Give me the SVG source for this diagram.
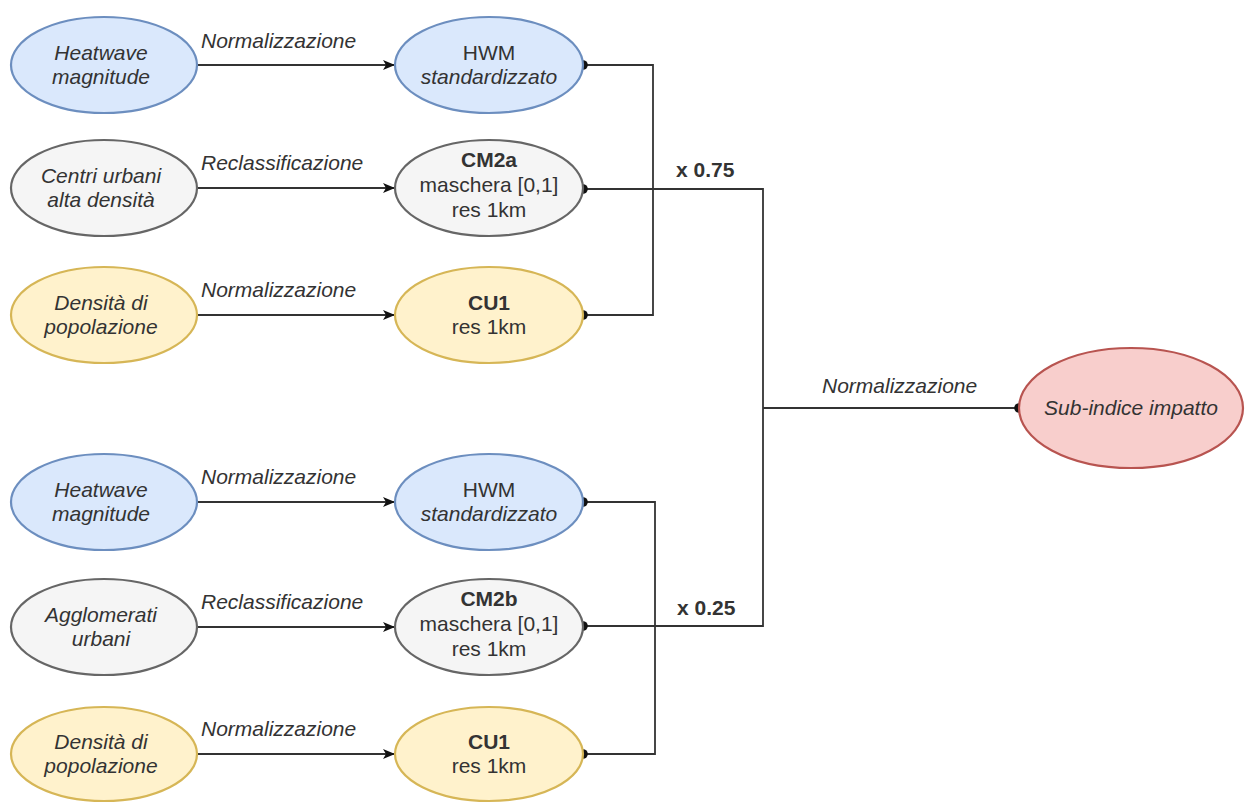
<svg xmlns="http://www.w3.org/2000/svg" width="1247" height="803" viewBox="0 0 1247 803">
<defs>
<style>
.blue{fill:#dae8fc;stroke:#6c8ebf;stroke-width:2.2}
.grey{fill:#f5f5f5;stroke:#666666;stroke-width:2.2}
.yellow{fill:#fff2cc;stroke:#d6b656;stroke-width:2.2}
.red{fill:#f8cecc;stroke:#b85450;stroke-width:2.2}
text{font-family:"Liberation Sans",Arial,sans-serif;font-size:21px;fill:#333333}
.c{text-anchor:middle}
.i{font-style:italic}
.b{font-weight:bold}
.edge{fill:none;stroke:#333333;stroke-width:1.8}
</style>
<marker id="arr" markerUnits="userSpaceOnUse" markerWidth="13" markerHeight="11" refX="12" refY="5.5" orient="auto" overflow="visible">
<path d="M0,0.5 L12,5.5 L0,10.5 L3,5.5 Z" fill="#111111"/>
</marker>
<marker id="dot" markerUnits="userSpaceOnUse" markerWidth="12" markerHeight="12" refX="6" refY="6" orient="auto" overflow="visible">
<circle cx="6" cy="6" r="4.8" fill="#111111"/>
</marker>
</defs>
<rect width="1247" height="803" fill="#ffffff"/>

<g id="connectors">
<line class="edge" x1="197" y1="65" x2="395" y2="65" marker-end="url(#arr)"/>
<line class="edge" x1="197" y1="188" x2="395" y2="188" marker-end="url(#arr)"/>
<line class="edge" x1="197" y1="315" x2="395" y2="315" marker-end="url(#arr)"/>
<line class="edge" x1="197" y1="502" x2="395" y2="502" marker-end="url(#arr)"/>
<line class="edge" x1="197" y1="627" x2="395" y2="627" marker-end="url(#arr)"/>
<line class="edge" x1="197" y1="754" x2="395" y2="754" marker-end="url(#arr)"/>
<polyline class="edge" points="583,65 653,65 653,315 583,315" marker-start="url(#dot)" marker-end="url(#dot)"/>
<polyline class="edge" points="583,189 763,189 763,626 583,626" marker-start="url(#dot)" marker-end="url(#dot)"/>
<polyline class="edge" points="583,502 655,502 655,754 583,754" marker-start="url(#dot)" marker-end="url(#dot)"/>
<line class="edge" x1="763" y1="408" x2="1019" y2="408" marker-end="url(#dot)"/>
<text class="i" x="201" y="48">Normalizzazione</text>
<text class="i" x="201" y="170">Reclassificazione</text>
<text class="i" x="201" y="297">Normalizzazione</text>
<text class="i" x="201" y="484">Normalizzazione</text>
<text class="i" x="201" y="609">Reclassificazione</text>
<text class="i" x="201" y="736">Normalizzazione</text>
<text class="b" x="676" y="177">x 0.75</text>
<text class="b" x="677" y="615">x 0.25</text>
<text class="i" x="822" y="393">Normalizzazione</text>
</g>

<g id="n1"><ellipse class="blue" cx="104" cy="65" rx="93" ry="48"/>
<text class="c i" x="101" y="60">Heatwave</text><text class="c i" x="101" y="84">magnitude</text></g>
<g id="n2"><ellipse class="grey" cx="104" cy="188" rx="93" ry="48"/>
<text class="c i" x="101" y="183">Centri urbani</text><text class="c i" x="101" y="207">alta densità</text></g>
<g id="n3"><ellipse class="yellow" cx="104" cy="315" rx="93" ry="48"/>
<text class="c i" x="101" y="310">Densità di</text><text class="c i" x="101" y="334">popolazione</text></g>

<g id="n4"><ellipse class="blue" cx="489" cy="65" rx="94" ry="48"/>
<text class="c" x="489" y="60">HWM</text><text class="c i" x="489" y="84">standardizzato</text></g>
<g id="n5"><ellipse class="grey" cx="489" cy="188" rx="94" ry="48"/>
<text class="c b" x="489" y="167">CM2a</text><text class="c" x="489" y="192">maschera [0,1]</text><text class="c" x="489" y="217">res 1km</text></g>
<g id="n6"><ellipse class="yellow" cx="489" cy="315" rx="94" ry="48"/>
<text class="c b" x="489" y="310">CU1</text><text class="c" x="489" y="334">res 1km</text></g>

<g id="n7"><ellipse class="blue" cx="104" cy="502" rx="93" ry="48"/>
<text class="c i" x="101" y="497">Heatwave</text><text class="c i" x="101" y="521">magnitude</text></g>
<g id="n8"><ellipse class="grey" cx="104" cy="627" rx="93" ry="48"/>
<text class="c i" x="101" y="622">Agglomerati</text><text class="c i" x="101" y="646">urbani</text></g>
<g id="n9"><ellipse class="yellow" cx="104" cy="754" rx="93" ry="47"/>
<text class="c i" x="101" y="749">Densità di</text><text class="c i" x="101" y="773">popolazione</text></g>

<g id="n10"><ellipse class="blue" cx="489" cy="502" rx="94" ry="48"/>
<text class="c" x="489" y="497">HWM</text><text class="c i" x="489" y="521">standardizzato</text></g>
<g id="n11"><ellipse class="grey" cx="489" cy="627" rx="94" ry="48"/>
<text class="c b" x="489" y="606">CM2b</text><text class="c" x="489" y="631">maschera [0,1]</text><text class="c" x="489" y="656">res 1km</text></g>
<g id="n12"><ellipse class="yellow" cx="489" cy="754" rx="94" ry="47"/>
<text class="c b" x="489" y="749">CU1</text><text class="c" x="489" y="773">res 1km</text></g>

<g id="n13"><ellipse class="red" cx="1131" cy="408" rx="112" ry="60"/>
<text class="c i" x="1131" y="415">Sub-indice impatto</text></g>
</svg>
